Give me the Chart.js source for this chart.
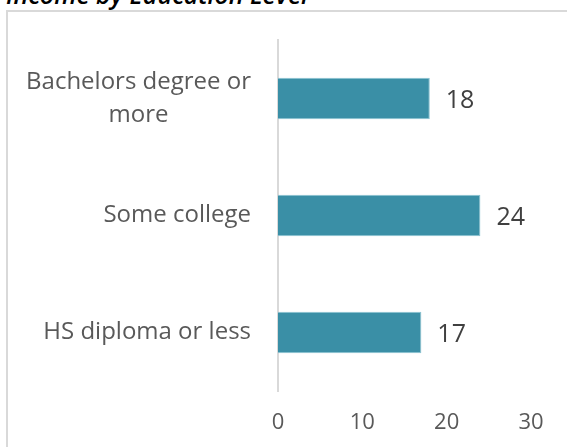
<!DOCTYPE html>
<html>
<head>
<meta charset="utf-8">
<script src="https://cdn.jsdelivr.net/npm/chart.js@4"></script>
<style>
  html, body { margin:0; padding:0; width:567px; height:447px; overflow:hidden; background:#fff; }
  #title { position:absolute; left:6px; top:-19px; font:italic 600 25px/26px "Open Sans", sans-serif; color:#000; white-space:nowrap; }
  #frame { position:absolute; left:6px; top:10px; width:600px; height:480px; border:2px solid #d9d9d9; box-sizing:border-box; }
  #c { position:absolute; left:0; top:0; }
</style>
</head>
<body>
<div id="title">Income by Education Level</div>
<div id="frame"></div>
<canvas id="c" width="567" height="447"></canvas>
<script>
const categories = [["Bachelors degree or", "more"], ["Some college"], ["HS diploma or less"]];
const values = [18, 24, 17];
const xTicks = [0, 10, 20, 30];

const catFont = '24px "Open Sans", sans-serif';
const valFont = '25px "Open Sans", sans-serif';

const categoryLabels = {
  id: 'categoryLabels',
  afterDraw(chart) {
    const ctx = chart.ctx, ys = chart.scales.y;
    const right = chart.chartArea.left - 27;
    ctx.save();
    ctx.font = catFont;
    ctx.fillStyle = '#595959';
    ctx.textAlign = 'center';
    ctx.textBaseline = 'middle';
    const lh = 33;
    categories.forEach((lines, i) => {
      const y = ys.getPixelForTick(i);
      const w = Math.max(...lines.map(l => ctx.measureText(l).width));
      const cx = right - w / 2;
      lines.forEach((l, j) => {
        ctx.fillText(l, cx, y + (j - (lines.length - 1) / 2) * lh);
      });
    });
    ctx.restore();
  }
};

const valueLabels = {
  id: 'valueLabels',
  afterDatasetsDraw(chart) {
    const ctx = chart.ctx;
    const meta = chart.getDatasetMeta(0);
    ctx.save();
    ctx.font = valFont;
    ctx.fillStyle = '#404040';
    ctx.textAlign = 'left';
    ctx.textBaseline = 'middle';
    meta.data.forEach((el, i) => {
      ctx.fillText(String(values[i]), el.x + 16, el.y + 2);
    });
    ctx.restore();
  }
};

new Chart(document.getElementById('c'), {
  type: 'bar',
  data: {
    labels: categories,
    datasets: [{
      data: values,
      backgroundColor: '#3A8FA6',
      borderColor: '#8CC3D2',
      borderWidth: 1,
      barPercentage: 0.355,
      categoryPercentage: 1
    }]
  },
  options: {
    indexAxis: 'y',
    responsive: false,
    animation: false,
    layout: { padding: { top: 40, right: 36, bottom: 0, left: 0 } },
    plugins: { legend: { display: false }, tooltip: { enabled: false }, title: { display: false } },
    scales: {
      x: {
        min: 0, max: 30,
        afterBuildTicks(s) { s.ticks = xTicks.map(v => ({ value: v })); },
        afterFit(s) { s.height = 56; },
        grid: { display: false, drawTicks: false },
        border: { display: false },
        ticks: { padding: 19, color: '#595959', font: { family: 'Open Sans', size: 22 } }
      },
      y: {
        afterFit(s) { s.width = 278; },
        grid: { display: false, drawTicks: false },
        border: { display: true, color: '#d9d9d9', width: 2 },
        ticks: { display: false }
      }
    }
  },
  plugins: [categoryLabels, valueLabels]
});
</script>
</body>
</html>
